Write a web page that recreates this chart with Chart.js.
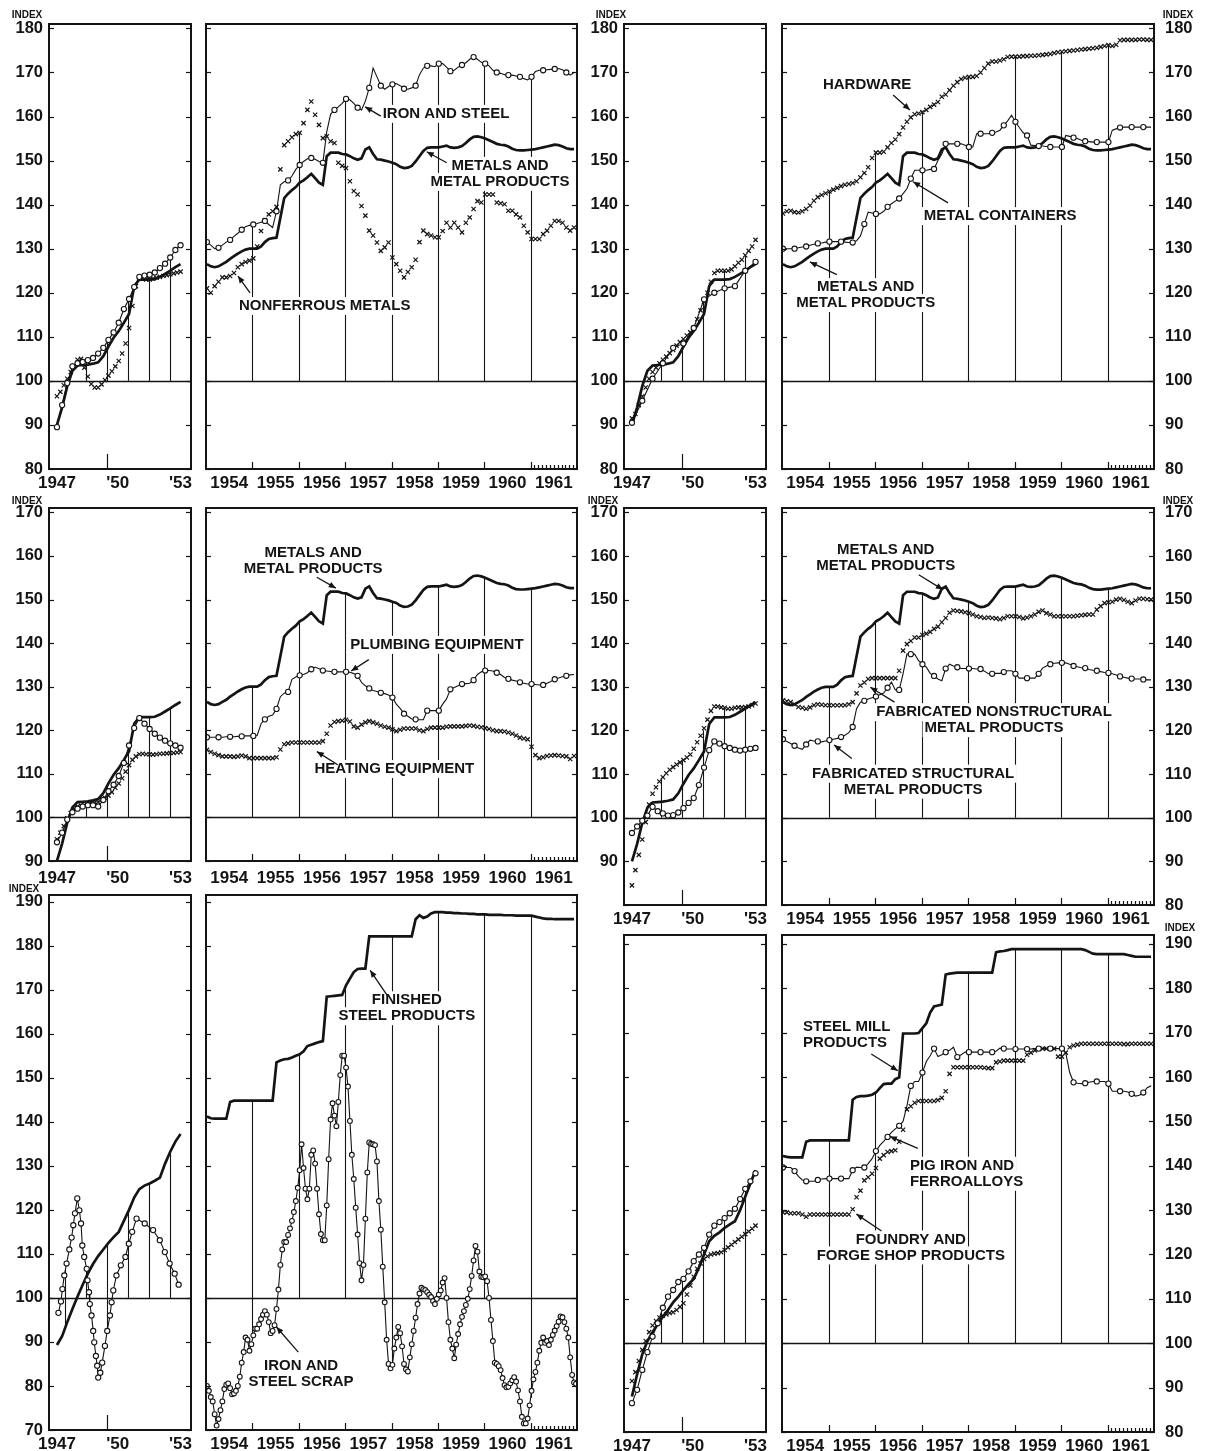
<!DOCTYPE html>
<html><head><meta charset="utf-8">
<script src="https://cdn.jsdelivr.net/npm/chart.js@4/dist/chart.umd.min.js"></script>
<style>
html,body{margin:0;padding:0;background:#fff;}
#page{position:relative;width:1206px;height:1451px;overflow:hidden;background:#fff;}
canvas{position:absolute;}
.idx{position:absolute;font:bold 10px "Liberation Sans",Arial,sans-serif;color:#141414;transform:translate(-50%,-50%);white-space:nowrap;}
</style></head><body><div id="page"></div>
<script>
// ---------- tick labels ----------
const SMALL_START = 1947.6, SMALL_END = 1953.5;
const SMALL_TICKS = [1947.6, 1950.5, 1953.5];
const SMALL_LABELS = ['1947', "'50", "'53"];
const BIG_TICKS = [1954.5, 1955.5, 1956.5, 1957.5, 1958.5, 1959.5, 1960.5, 1961.5];
const BIG_LABELS = ['1954', '1955', '1956', '1957', '1958', '1959', '1960', '1961'];
const SMALL_DROPS = [1949, 1950, 1951, 1952, 1953];
const BIG_DROPS = [1955, 1956, 1957, 1958, 1959, 1960, 1961];

// ---------- monthly series 1954-1961 ----------
const METALS = [
126.5,126.0,125.8,126.0,126.5,127.0,127.7,128.3,128.9,129.4,129.8,130.0,
130.0,130.0,130.5,131.5,132.2,132.4,132.5,137.0,141.5,142.5,143.3,144.0,
145.0,145.5,146.2,147.0,146.0,145.0,144.5,151.0,151.8,151.8,151.8,151.5,
151.4,151.0,150.5,150.2,150.5,152.5,153.0,151.5,150.3,150.2,150.0,149.8,
149.5,149.2,148.6,148.3,148.4,148.8,149.8,151.0,152.2,152.9,153.0,153.0,
153.0,153.2,153.4,153.0,152.9,153.0,153.3,154.0,154.8,155.4,155.5,155.3,
155.0,154.6,154.2,153.8,153.6,153.5,153.2,152.7,152.4,152.3,152.3,152.4,
152.5,152.6,152.8,153.0,153.2,153.4,153.6,153.5,153.2,152.8,152.6,152.6];
const IRON = [
131.5,130.8,130.0,130.2,130.8,131.5,132.0,132.8,133.5,134.3,135.0,135.3,
135.5,135.7,136.0,136.3,135.5,134.8,138.5,144.5,145.2,145.5,146.5,148.0,
149.0,149.8,150.4,150.6,150.3,149.8,149.5,156.5,160.5,161.5,162.2,163.0,
164.0,163.8,163.0,162.0,161.5,163.5,166.5,171.0,169.0,167.0,166.2,166.8,
167.3,167.5,167.0,166.3,166.2,166.5,167.0,169.5,171.0,171.5,171.5,171.3,
172.0,172.0,171.2,170.3,170.5,171.2,171.7,172.2,173.0,173.5,173.0,172.3,
172.0,171.5,170.5,170.0,169.8,169.5,169.4,169.4,169.2,169.0,168.6,168.3,
169.0,170.2,170.5,170.5,170.6,170.7,170.8,170.9,170.6,170.0,169.4,170.0];
const NONFERROUS = [
121.0,120.0,121.5,122.5,123.5,123.5,123.8,124.5,125.8,126.5,127.0,127.3,
127.8,130.5,134.0,136.5,137.8,138.5,139.5,148.0,153.5,154.4,155.3,156.0,
156.3,158.5,161.5,163.4,160.4,158.1,155.1,155.5,154.4,154.0,149.5,148.8,
148.3,145.3,143.1,142.3,139.7,137.5,134.1,133.0,131.4,129.5,130.3,131.4,
128.0,126.5,125.0,123.5,124.7,125.8,127.5,131.5,134.1,133.3,133.0,132.6,
132.6,134.0,135.9,134.8,135.9,134.8,133.7,135.9,137.1,139.0,140.8,140.5,
142.3,142.3,142.3,140.5,140.3,140.1,138.6,138.6,137.8,137.1,135.2,133.7,
132.2,132.2,132.2,133.3,134.1,135.2,136.3,136.3,135.9,134.8,134.1,134.8];
const HARDWARE = [
138.0,138.5,138.6,138.3,138.2,138.5,139.0,139.8,140.9,141.7,142.2,142.6,
143.0,143.4,143.8,144.2,144.5,144.7,144.9,145.3,146.2,147.2,148.5,150.6,
151.8,151.8,152.0,153.0,154.0,154.8,156.0,157.5,158.8,159.8,160.5,160.7,
161.0,161.5,162.2,162.7,163.3,164.5,165.0,166.0,167.0,167.8,168.5,168.8,
169.0,169.0,169.2,170.0,171.0,172.0,172.5,172.5,172.7,173.0,173.5,173.6,
173.6,173.6,173.7,173.7,173.8,173.8,173.9,174.0,174.1,174.2,174.4,174.6,
174.7,174.8,174.9,175.0,175.1,175.2,175.3,175.4,175.5,175.6,175.8,176.0,
176.2,176.0,176.3,177.3,177.4,177.4,177.4,177.4,177.5,177.5,177.4,177.4];
const CONTAINERS = [
130.0,130.0,130.0,130.0,130.2,130.4,130.5,130.8,131.0,131.2,131.3,131.5,
131.6,131.6,131.6,131.6,131.5,131.4,131.4,131.8,132.9,135.6,138.3,138.1,
137.9,137.9,138.5,139.5,140.2,140.8,141.4,142.5,143.6,145.9,147.8,147.8,
147.8,147.8,148.0,148.1,150.0,151.5,153.8,153.8,153.8,153.8,153.8,153.5,
153.1,153.1,156.1,156.1,156.1,156.1,156.3,156.5,156.9,158.0,159.0,160.3,
158.8,157.5,156.3,155.7,153.5,153.4,153.3,153.3,153.2,153.1,153.1,153.1,
153.1,155.7,155.5,155.2,155.0,154.6,154.4,154.3,154.2,154.2,154.2,154.2,
154.2,156.9,157.2,157.5,157.6,157.6,157.6,157.6,157.6,157.6,157.6,157.6];
const PLUMBING = [
118.4,118.4,118.4,118.4,118.4,118.5,118.5,118.5,118.6,118.6,118.7,118.7,
118.7,118.8,121.5,122.5,123.2,123.5,124.9,127.7,128.5,128.8,131.7,132.2,
132.6,132.8,133.2,134.0,134.5,134.1,133.7,133.6,133.5,133.4,133.4,133.4,
133.4,133.3,133.0,132.5,131.0,130.2,129.6,129.1,128.9,128.6,128.4,128.1,
127.5,126.0,125.0,123.8,123.2,122.6,122.5,122.4,122.4,124.5,124.5,124.5,
124.5,126.0,127.2,129.4,129.8,130.2,130.6,130.7,130.8,131.5,132.8,133.4,
133.7,133.7,133.6,133.2,132.8,132.1,131.8,131.5,131.3,131.0,130.8,130.6,
130.6,130.5,130.4,130.4,130.8,131.2,131.7,132.0,132.3,132.5,132.7,132.8];
const HEATING = [
115.5,115.0,114.6,114.3,114.0,114.0,114.0,113.9,114.0,114.2,114.0,113.6,
113.6,113.6,113.6,113.6,113.6,113.6,113.8,115.6,116.8,117.0,117.2,117.2,
117.2,117.2,117.2,117.2,117.2,117.2,117.5,119.2,121.1,121.9,122.1,122.2,
122.4,122.0,120.9,120.6,121.3,121.8,122.1,121.8,121.5,121.1,120.8,120.6,
120.2,119.8,120.1,120.4,120.4,120.4,120.4,120.0,119.8,120.3,120.6,120.6,
120.6,120.6,120.8,120.9,120.9,120.9,120.9,121.0,121.1,121.0,120.8,120.7,
120.5,120.3,120.0,119.8,119.8,119.7,119.5,119.2,118.8,118.3,118.1,117.9,
116.2,114.3,113.6,113.8,114.1,114.2,114.3,114.2,114.1,114.0,113.4,114.1];
const NONSTRUCTURAL = [
126.9,126.7,126.5,126.0,125.4,125.2,125.0,125.3,125.8,126.0,125.9,125.8,
125.8,125.8,125.8,125.8,125.8,126.0,126.5,128.5,130.3,131.0,131.8,132.0,
132.0,132.0,132.0,132.0,132.0,132.0,133.7,138.3,139.8,140.5,141.3,141.3,
141.9,142.2,142.6,143.3,143.8,144.8,145.8,147.0,147.5,147.4,147.3,147.1,
146.9,146.6,146.2,146.0,145.8,145.9,145.8,145.7,145.5,145.8,146.2,146.2,
146.2,146.0,145.7,145.9,146.2,146.6,147.2,147.5,146.9,146.6,146.2,146.2,
146.2,146.2,146.2,146.2,146.3,146.4,146.5,146.6,146.6,147.7,148.5,149.2,
149.4,149.5,150.0,150.2,149.9,149.5,149.2,149.8,150.2,150.2,150.1,150.0];
const STRUCTURAL = [
118.0,117.5,117.0,116.5,116.0,115.7,116.8,117.8,117.6,117.5,117.4,117.6,
117.8,118.0,118.2,118.5,118.9,119.5,120.8,125.0,126.5,126.8,127.2,127.5,
127.8,128.2,128.6,129.8,131.1,129.3,129.3,133.0,137.5,137.5,137.5,136.0,
135.2,134.5,133.1,132.5,131.8,131.4,134.2,135.2,134.8,134.5,134.2,134.2,
134.2,134.2,134.1,134.1,133.6,133.0,133.0,133.1,133.1,133.4,133.7,133.7,
133.0,132.0,132.0,132.0,132.0,132.0,133.0,134.3,134.8,135.2,135.4,135.5,
135.5,135.5,135.2,134.8,134.6,134.4,134.3,134.0,133.8,133.7,133.5,133.3,
133.2,133.0,132.7,132.4,132.2,132.0,131.9,131.8,131.8,131.7,131.6,131.6];
const FINISHED_STEEL = [
141.2,140.8,140.7,140.7,140.7,140.7,144.5,144.8,144.8,144.8,144.8,144.8,
144.8,144.8,144.8,144.8,144.8,144.8,153.5,153.9,154.2,154.3,154.6,155.0,
155.3,156.0,157.2,157.5,157.8,158.1,158.3,168.4,168.5,168.6,168.7,168.8,
171.0,172.5,174.0,174.7,174.8,174.8,182.1,182.1,182.1,182.1,182.1,182.1,
182.1,182.1,182.1,182.1,182.1,182.1,186.0,186.9,186.3,186.6,187.3,187.6,
187.6,187.6,187.5,187.5,187.4,187.4,187.3,187.3,187.2,187.2,187.1,187.1,
187.1,187.0,187.0,187.0,187.0,186.9,186.9,186.9,186.8,186.8,186.8,186.8,
186.8,186.6,186.4,186.2,186.1,186.1,186.0,186.0,186.0,186.0,186.0,186.0];
// iron and steel scrap, twice a month
const SCRAP = [
80.0,78.9,77.5,76.5,73.6,71.0,72.5,74.5,76.5,79.3,80.3,80.6,79.5,78.1,78.3,78.9,80.0,82.1,85.3,87.7,91.0,90.5,88.0,89.5,
91.5,93.0,93.0,94.0,95.2,96.2,97.0,96.2,94.5,92.0,92.5,93.8,97.5,101.9,107.5,111.0,112.7,112.7,114.3,115.8,117.5,119.5,122.0,125.0,
129.0,134.9,129.5,124.8,122.4,124.8,132.5,133.5,130.5,124.8,119.0,114.5,113.1,113.1,121.0,131.5,140.5,144.2,141.4,139.0,144.5,150.6,155.0,155.0,
152.3,148.0,140.2,132.5,127.0,120.5,114.4,107.9,104.0,107.5,118.0,128.5,135.3,135.0,134.9,134.7,131.0,122.0,115.5,107.1,99.0,90.5,85.0,84.0,
84.8,88.5,91.0,93.4,92.0,89.0,85.0,83.8,83.3,86.5,89.5,92.5,95.5,98.6,101.0,102.3,102.0,101.8,101.3,100.7,100.2,99.3,98.6,99.8,
100.8,101.7,103.5,104.5,100.0,94.5,90.5,88.5,86.3,89.4,91.8,94.0,95.7,97.0,98.4,99.8,102.0,105.0,108.5,111.8,110.5,106.0,104.8,104.7,
104.9,103.8,100.0,95.0,90.2,85.3,85.0,84.5,83.6,81.8,80.2,79.7,79.8,80.6,81.3,82.0,81.0,79.0,76.5,73.0,71.5,71.5,72.6,75.6,
78.9,81.5,83.2,85.3,88.0,89.8,91.0,89.8,90.2,89.3,90.5,91.6,92.6,93.6,94.6,95.8,95.6,94.5,93.0,91.0,86.5,82.5,80.8,80.5];
const STEEL_MILL = [
142.2,142.0,141.9,141.9,141.9,141.9,145.4,145.7,145.7,145.7,145.7,145.7,
145.7,145.7,145.7,145.7,145.7,145.7,154.9,155.5,155.7,155.7,155.8,156.0,
156.5,157.5,158.4,158.5,158.5,159.5,159.9,169.8,169.8,169.8,169.8,169.9,
171.0,172.1,174.5,175.9,176.1,176.3,183.1,183.3,183.4,183.5,183.5,183.5,
183.5,183.5,183.5,183.5,183.5,183.5,183.5,188.1,188.3,188.4,188.6,188.8,
188.8,188.8,188.8,188.8,188.8,188.8,188.8,188.8,188.8,188.8,188.8,188.8,
188.8,188.8,188.8,188.8,188.8,188.8,188.6,188.2,187.8,187.7,187.7,187.7,
187.7,187.7,187.7,187.7,187.7,187.5,187.3,187.1,187.1,187.1,187.1,187.1];
const PIG_IRON = [
139.6,139.6,139.6,138.8,137.6,136.8,136.5,136.5,136.5,136.8,137.0,137.1,
137.1,137.1,137.1,137.1,137.1,137.1,139.0,139.7,139.6,139.6,140.5,141.6,
143.3,144.6,145.5,146.5,147.5,148.3,149.0,150.0,153.5,158.0,159.0,159.0,
161.0,163.5,164.8,166.4,164.6,165.0,165.6,166.0,166.7,164.5,165.0,165.6,
165.6,165.6,165.6,165.6,165.6,165.6,165.6,165.8,166.5,166.4,166.3,166.3,
166.3,166.3,166.3,166.3,166.3,166.4,166.4,166.4,166.4,166.4,166.4,166.4,
166.4,165.4,161.0,158.8,158.6,158.5,158.6,158.8,159.0,159.0,159.0,159.0,
158.5,156.8,156.8,156.8,156.8,156.6,156.2,155.7,155.9,156.5,157.6,158.0];
const FOUNDRY = [
129.5,129.5,129.3,129.3,129.3,129.0,128.5,129.0,129.0,129.0,129.0,129.0,
129.0,129.0,129.0,129.0,129.0,129.0,130.2,132.9,134.4,136.7,137.4,138.2,
139.5,141.6,142.4,143.1,143.3,143.5,145.4,148.1,152.7,153.4,154.2,154.6,
154.6,154.6,154.6,154.6,154.8,155.3,156.8,160.7,162.2,162.2,162.2,162.2,
162.2,162.2,162.2,162.2,162.1,162.0,162.0,163.3,163.5,163.7,163.7,163.7,
163.7,163.7,163.7,165.0,165.5,166.0,166.4,166.4,166.4,166.4,166.4,164.6,
164.6,165.5,166.7,167.1,167.3,167.5,167.5,167.5,167.5,167.5,167.5,167.5,
167.5,167.5,167.5,167.5,167.4,167.4,167.5,167.5,167.5,167.5,167.5,167.5];

// ---------- 1947-1953 series (spread evenly from mid-1947 to mid-1953) ----------
const METALS_S = [90,94,98.8,102.3,103.5,103.6,103.7,103.9,104.2,105.6,107.8,109.8,111.3,113.2,115.2,121.5,123,123,123,123.1,123.6,124.3,125,125.8,126.5];
const IRON_S = [89.5,94.5,99.5,103.3,104,104.3,104.7,105.2,106.2,107.5,109.3,111,113.2,116.3,118.6,121.3,123.6,123.9,124.1,124.6,125.6,126.6,128,129.7,130.8];
const NONFERROUS_S = [96.5,97.5,99,100.5,102,103.5,104.8,105,103,101,99.3,98.5,98.5,99.2,100.2,101.2,102.2,103.3,104.5,106.2,108.5,112,117,121.5,123.3,123.2,123,123,123.2,123.4,123.6,123.8,124,124.2,124.4,124.6,124.8];
const HARDWARE_S = [91.5,92.5,94.5,96.5,98.5,100.5,102,103,104,104.8,105.5,106.3,107,108,108.8,109.5,110.3,111,112,114,116,118,120,122.5,124.5,125,125,125,125,125.3,126,126.8,127.5,128.5,129.5,130.5,132];
const CONTAINERS_S = [90.5,95.5,100.5,104,107.5,108.5,112,118.5,120,121,121.5,125,127];
const PLUMBING_S = [94.3,96.5,99.5,101.2,102,102.5,102.8,102.8,102.5,104,106,107.5,109.5,112.5,116.5,120.5,122.8,121.5,120.3,119.2,118.3,117.6,117,116.5,116];
const HEATING_S = [95,96.5,98,99.8,101,102,102.5,102.7,102.8,103,103.2,103.4,103.6,104,104.5,105,105.8,106.8,107.8,109,110.5,112,113.2,114,114.5,114.6,114.5,114.5,114.4,114.5,114.6,114.6,114.7,114.8,114.8,114.9,115];
const NONSTRUCTURAL_S = [84.5,88,91.5,95,99,103,105.5,107,108.3,109.3,110.2,111,111.6,112.2,112.7,113.2,113.8,114.5,115.8,117.3,118.8,120.5,122.5,124.5,125.5,125.5,125.3,125.2,125,125,125.2,125.3,125.3,125.4,125.5,125.8,126.2];
const STRUCTURAL_S = [96.5,98,99.3,100.5,102.5,101.5,101,100.5,100.6,101.2,102.2,103.4,104.5,107.5,111.5,115.5,117.5,117,116.4,116,115.6,115.4,115.6,115.8,116];
const FINISHED_STEEL_S = [89.3,91.3,94.5,97.5,100.3,103,105.5,107.7,109.5,111,112.5,113.8,115,117.5,120,122.8,124.7,125.5,126,126.6,127.3,130.5,133.2,135.5,137.2];
const SCRAP_S_YEARS = [1947.67,1947.79,1947.86,1947.95,1948.06,1948.19,1948.30,1948.38,1948.46,1948.57,1948.67,1948.75,1948.81,1948.90,1949.02,1949.06,1949.13,1949.17,1949.25,1949.33,1949.38,1949.46,1949.52,1949.57,1949.67,1949.76,1949.89,1950.00,1950.13,1950.21,1950.29,1950.44,1950.65,1950.87,1951.03,1951.19,1951.40,1951.79,1952.19,1952.51,1952.75,1952.98,1953.22,1953.41];
const SCRAP_S = [96.6,99.2,102,105.1,107.8,111,113.7,116.5,119.2,122.6,119.9,116.9,111.9,109.3,106.6,104,101.3,98.6,96,92.5,89.9,86.8,84.6,81.9,83,85.3,89.1,92.5,96,99,101.7,105.1,107.4,109.3,112.3,115,118,116.9,115.4,113.1,110.4,107.8,105.5,103];
const STEEL_MILL_S = [88,93,97.5,100.5,102.5,104.3,106,107.5,109.2,110.5,112,113.3,114.5,117,120,123,124.2,125,126,126.8,127.5,130,133,136,139];
const PIG_IRON_S = [86.5,89.5,94,98,101.5,104.5,108,110.5,112,113.8,114.5,116.2,118.5,120,121.5,124.5,126.5,127.3,128.2,129.3,130.3,132.5,134.8,136.5,138.3];
const FOUNDRY_S = [91.5,93.5,96,98.5,100.5,102.5,104,105,105.8,106.2,106.5,106.8,107,107.5,108.2,109,111,113,115,116.8,118,119,119.6,120,120.2,120.3,120.5,121,121.6,122.2,122.8,123.4,124,124.6,125.2,125.8,126.5];

// ---------- helpers ----------
const INK = '#141414';
const FONT = '"Liberation Sans", Arial, Helvetica, sans-serif';
const NOTE_FONT = 'bold 15px ' + FONT;
Chart.defaults.font.family = FONT;

const monthly = v => v.map((y, i) => ({x: 1954 + i / 12 + 0.02, y}));
const semiMonthly = v => v.map((y, i) => ({x: 1954 + i / 24 + 0.02, y}));
const spread = v => v.map((y, i) => ({x: SMALL_START + (SMALL_END - SMALL_START) * i / (v.length - 1), y}));
const dated = (yrs, v) => v.map((y, i) => ({x: yrs[i], y}));

const solid = data => ({data, borderColor: INK, borderWidth: 2.7, pointRadius: 0, fill: false, tension: 0});
const circles = (data, every = 1, r = 2.6) => ({data, borderColor: INK, borderWidth: 1.1, pointStyle: 'circle',
  pointRadius: c => (c.dataIndex % every === 0 ? r : 0), pointBackgroundColor: '#fff',
  pointBorderColor: INK, pointBorderWidth: 1.1, fill: false, tension: 0});
const crosses = data => ({data, showLine: false, borderColor: INK, pointStyle: 'crossRot', pointRadius: 3,
  pointBorderColor: INK, pointBorderWidth: 1.2});

function valueAt(data, xv) {
  for (let i = 0; i < data.length - 1; i++) {
    const a = data[i], b = data[i + 1];
    if (a.x <= xv && xv <= b.x) return a.y + (b.y - a.y) * (xv - a.x) / (b.x - a.x);
  }
  return null;
}
function seg(ctx, x1, y1, x2, y2) { ctx.beginPath(); ctx.moveTo(x1, y1); ctx.lineTo(x2, y2); ctx.stroke(); }
function arrow(ctx, x1, y1, x2, y2) {
  ctx.lineWidth = 1.3; seg(ctx, x1, y1, x2, y2);
  const a = Math.atan2(y2 - y1, x2 - x1), L = 7, W = 3;
  ctx.beginPath(); ctx.moveTo(x2, y2);
  ctx.lineTo(x2 - L * Math.cos(a) + W * Math.sin(a), y2 - L * Math.sin(a) - W * Math.cos(a));
  ctx.lineTo(x2 - L * Math.cos(a) - W * Math.sin(a), y2 - L * Math.sin(a) + W * Math.cos(a));
  ctx.closePath(); ctx.fill();
}

const decor = {
  id: 'decor',
  beforeDatasetsDraw(chart, args, o) {
    const {ctx, chartArea: a, scales: {x, y}} = chart;
    ctx.save(); ctx.strokeStyle = INK;
    const y100 = Math.round(y.getPixelForValue(100)) + 0.5;
    ctx.lineWidth = 1.3; seg(ctx, a.left, y100, a.right, y100);
    ctx.lineWidth = 1.1;
    (o.drops || []).forEach(yr => {
      let hi = -Infinity, lo = 100;
      chart.data.datasets.forEach(ds => { const v = valueAt(ds.data, yr); if (v !== null) { hi = Math.max(hi, v); lo = Math.min(lo, v); } });
      if (hi === -Infinity) return;
      const px = Math.round(x.getPixelForValue(yr)) + 0.5;
      seg(ctx, px, y.getPixelForValue(lo), px, y.getPixelForValue(Math.max(hi, 100)));
    });
    ctx.fillStyle = '#fff'; ctx.font = NOTE_FONT;
    (o.notes || []).forEach(n => {
      const px = x.getPixelForValue(n.x), py = y.getPixelForValue(n.y);
      n.lines.forEach((t, i) => {
        const w = ctx.measureText(t).width;
        const left = n.align === 'left' ? px : px - w / 2;
        ctx.fillRect(left - 2, py + i * 16 - 9, w + 4, 18);
      });
    });
    ctx.restore();
  },
  afterDatasetsDraw(chart, args, o) {
    const {ctx, chartArea: a, scales: {x, y}} = chart;
    ctx.save(); ctx.strokeStyle = INK; ctx.fillStyle = INK;
    ctx.lineWidth = 1.2;
    for (let v = Math.ceil(y.min / 10) * 10; v <= y.max; v += 10) {
      const py = Math.round(y.getPixelForValue(v)) + 0.5;
      seg(ctx, a.left, py, a.left + 5, py); seg(ctx, a.right - 5, py, a.right, py);
    }
    (o.bticks || []).forEach(t => {
      const px = Math.round(x.getPixelForValue(t.x)) + 0.5;
      seg(ctx, px, a.bottom, px, a.bottom - t.len);
    });
    ctx.lineWidth = 2;
    ctx.strokeRect(a.left, a.top, a.right - a.left, a.bottom - a.top);
    ctx.font = NOTE_FONT; ctx.textBaseline = 'middle';
    (o.notes || []).forEach(n => {
      const px = x.getPixelForValue(n.x), py = y.getPixelForValue(n.y);
      ctx.textAlign = n.align || 'center';
      n.lines.forEach((t, i) => ctx.fillText(t, px, py + i * 16));
      if (n.arrow) {
        const [x1, y1, x2, y2] = n.arrow;
        arrow(ctx, x.getPixelForValue(x1), y.getPixelForValue(y1), x.getPixelForValue(x2), y.getPixelForValue(y2));
      }
    });
    ctx.restore();
  }
};
Chart.register(decor);

const page = document.getElementById('page');
const SMALL_BT = [{x: 1950, len: 15}];
const BIG_BT = BIG_DROPS.map(v => ({x: v, len: 7})).concat([1,2,3,4,5,6,7,8,9,10,11].map(k => ({x: 1961 + k / 12, len: 4})));

function makePanel(p) {
  const [L, T, R, B] = p.box;
  const mL = p.mL, mR = p.mR, mT = 24, mB = 30;
  const W = R - L + mL + mR, H = B - T + mT + mB;
  const c = document.createElement('canvas');
  c.width = W; c.height = H;
  c.style.left = (L - mL) + 'px'; c.style.top = (T - mT) + 'px';
  c.style.width = W + 'px'; c.style.height = H + 'px';
  page.appendChild(c);
  const small = !!p.small;
  const xt = small ? SMALL_TICKS : BIG_TICKS, xl = small ? SMALL_LABELS : BIG_LABELS;
  new Chart(c, {
    type: 'line',
    data: {datasets: p.ds},
    options: {
      responsive: false, animation: false, devicePixelRatio: 1, events: [],
      layout: {padding: {left: p.ySide === 'left' ? 0 : mL, right: p.ySide === 'right' ? 0 : mR, top: mT, bottom: 0}},
      plugins: {legend: {display: false}, tooltip: {enabled: false},
        decor: {drops: p.drops || (small ? SMALL_DROPS : BIG_DROPS), bticks: small ? SMALL_BT : BIG_BT, notes: p.notes || []}},
      scales: {
        x: {type: 'linear', min: small ? 1947.22 : 1954, max: small ? 1954 : 1962,
          grid: {display: false, drawTicks: false}, border: {display: false},
          afterBuildTicks: s => { s.ticks = xt.map(v => ({value: v})); },
          afterFit: s => { s.height = mB; },
          ticks: {autoSkip: false, maxRotation: 0, minRotation: 0, padding: p.xpad || 4, color: INK,
            font: {size: 17, weight: 'bold', family: FONT}, callback: (v, i) => xl[i]}},
        y: {type: 'linear', min: p.y[0], max: p.y[1], position: p.ySide === 'right' ? 'right' : 'left',
          display: !!p.ySide, grid: {display: false, drawTicks: false}, border: {display: false},
          afterFit: s => { s.width = p.ySide === 'right' ? mR : (p.ySide === 'left' ? mL : 0); },
          ticks: {stepSize: 10, includeBounds: false, padding: p.ySide === 'right' ? 11 : 6, color: INK,
            font: {size: 16.5, weight: 'bold', family: FONT},
            callback: v => ((p.hide || []).includes(v) ? '' : String(v))}}
      }
    }
  });
}

const PANELS = [
  {box: [49, 24, 191, 469], y: [80, 181], ySide: 'left', mL: 49, mR: 16, small: true,
   ds: [circles(spread(IRON_S)), solid(spread(METALS_S)), crosses(spread(NONFERROUS_S))]},
  {box: [206, 24, 577, 469], y: [80, 181], ySide: null, mL: 10, mR: 10,
   ds: [circles(monthly(IRON), 3), solid(monthly(METALS)), crosses(monthly(NONFERROUS))],
   notes: [
     {lines: ['IRON AND STEEL'], x: 1957.81, y: 160.6, align: 'left', arrow: [1957.77, 160.1, 1957.43, 162.2]},
     {lines: ['METALS AND', 'METAL PRODUCTS'], x: 1960.34, y: 148.8, arrow: [1959.19, 149.5, 1958.76, 152.0]},
     {lines: ['NONFERROUS METALS'], x: 1956.56, y: 117, arrow: [1954.95, 120, 1954.69, 123.8]}]},
  {box: [624, 24, 766, 469], y: [80, 181], ySide: 'left', mL: 49, mR: 16, small: true,
   ds: [circles(spread(CONTAINERS_S)), solid(spread(METALS_S)), crosses(spread(HARDWARE_S))]},
  {box: [782, 24, 1154, 469], y: [80, 181], ySide: 'right', mL: 10, mR: 52,
   ds: [circles(monthly(CONTAINERS), 3), solid(monthly(METALS)), crosses(monthly(HARDWARE))],
   notes: [
     {lines: ['HARDWARE'], x: 1955.83, y: 167.2, arrow: [1956.39, 164.9, 1956.75, 161.5]},
     {lines: ['METAL CONTAINERS'], x: 1958.69, y: 137.4, arrow: [1957.57, 140.4, 1956.82, 145.2]},
     {lines: ['METALS AND', 'METAL PRODUCTS'], x: 1955.8, y: 121.3, arrow: [1955.18, 124.1, 1954.6, 127.0]}]},
  {box: [49, 508, 191, 861], y: [90, 171], ySide: 'left', mL: 49, mR: 16, small: true, xpad: 7,
   ds: [circles(spread(PLUMBING_S)), solid(spread(METALS_S)), crosses(spread(HEATING_S))]},
  {box: [206, 508, 577, 861], y: [90, 171], ySide: null, mL: 10, mR: 10, xpad: 7,
   ds: [circles(monthly(PLUMBING), 3), solid(monthly(METALS)), crosses(monthly(HEATING))],
   notes: [
     {lines: ['METALS AND', 'METAL PRODUCTS'], x: 1956.31, y: 160.75, arrow: [1956.39, 155.1, 1956.8, 152.6]},
     {lines: ['PLUMBING EQUIPMENT'], x: 1958.98, y: 139.6, arrow: [1957.51, 136.2, 1957.13, 133.6]},
     {lines: ['HEATING EQUIPMENT'], x: 1958.06, y: 111.1, arrow: [1956.84, 112.1, 1956.39, 115.1]}]},
  {box: [624, 508, 766, 905], y: [80, 171], ySide: 'left', mL: 49, mR: 16, small: true, hide: [80],
   ds: [circles(spread(STRUCTURAL_S)), solid(spread(METALS_S)), crosses(spread(NONSTRUCTURAL_S))]},
  {box: [782, 508, 1154, 905], y: [80, 171], ySide: 'right', mL: 10, mR: 52,
   ds: [circles(monthly(STRUCTURAL), 3), solid(monthly(METALS)), crosses(monthly(NONSTRUCTURAL))],
   notes: [
     {lines: ['METALS AND', 'METAL PRODUCTS'], x: 1956.23, y: 161.4, arrow: [1956.94, 155.7, 1957.46, 152.3]},
     {lines: ['FABRICATED NONSTRUCTURAL', 'METAL PRODUCTS'], x: 1958.56, y: 124.2, arrow: [1956.42, 126.5, 1955.9, 129.9]},
     {lines: ['FABRICATED STRUCTURAL', 'METAL PRODUCTS'], x: 1956.82, y: 110.1, arrow: [1955.5, 113.6, 1955.12, 116.7]}]},
  {box: [49, 895, 191, 1430], y: [70, 191.5], ySide: 'left', mL: 49, mR: 16, small: true,
   drops: [1948, 1949, 1950, 1951, 1952, 1953],
   ds: [circles(dated(SCRAP_S_YEARS, SCRAP_S)), solid(spread(FINISHED_STEEL_S))]},
  {box: [206, 895, 577, 1430], y: [70, 191.5], ySide: null, mL: 10, mR: 10,
   ds: [circles(semiMonthly(SCRAP), 1, 2.4), solid(monthly(FINISHED_STEEL))],
   notes: [
     {lines: ['FINISHED', 'STEEL PRODUCTS'], x: 1958.33, y: 167.6, arrow: [1957.9, 168.8, 1957.54, 174.4]},
     {lines: ['IRON AND', 'STEEL SCRAP'], x: 1956.05, y: 84.5, arrow: [1955.99, 87.7, 1955.52, 93.4]}]},
  {box: [624, 935, 766, 1432], y: [80, 192], ySide: null, mL: 16, mR: 16, small: true,
   ds: [circles(spread(PIG_IRON_S)), solid(spread(STEEL_MILL_S)), crosses(spread(FOUNDRY_S))]},
  {box: [782, 935, 1154, 1432], y: [80, 192], ySide: 'right', mL: 10, mR: 52,
   ds: [circles(monthly(PIG_IRON), 3), solid(monthly(STEEL_MILL)), crosses(monthly(FOUNDRY))],
   notes: [
     {lines: ['STEEL MILL', 'PRODUCTS'], x: 1954.45, y: 171.3, align: 'left', arrow: [1955.92, 165.2, 1956.49, 161.4]},
     {lines: ['PIG IRON AND', 'FERROALLOYS'], x: 1956.75, y: 140, align: 'left', arrow: [1956.92, 143.9, 1956.32, 146.6]},
     {lines: ['FOUNDRY AND', 'FORGE SHOP PRODUCTS'], x: 1956.77, y: 123.4, arrow: [1956.14, 125.3, 1955.6, 129.1]}]}
];
PANELS.forEach(makePanel);

const INDEX_POS = [[27, 14], [611, 14], [1178, 14], [27, 500], [603, 500], [1178, 500], [24, 888], [1180, 927]];
INDEX_POS.forEach(([x, y]) => {
  const d = document.createElement('div');
  d.className = 'idx'; d.textContent = 'INDEX';
  d.style.left = x + 'px'; d.style.top = y + 'px';
  page.appendChild(d);
});
</script></body></html>
